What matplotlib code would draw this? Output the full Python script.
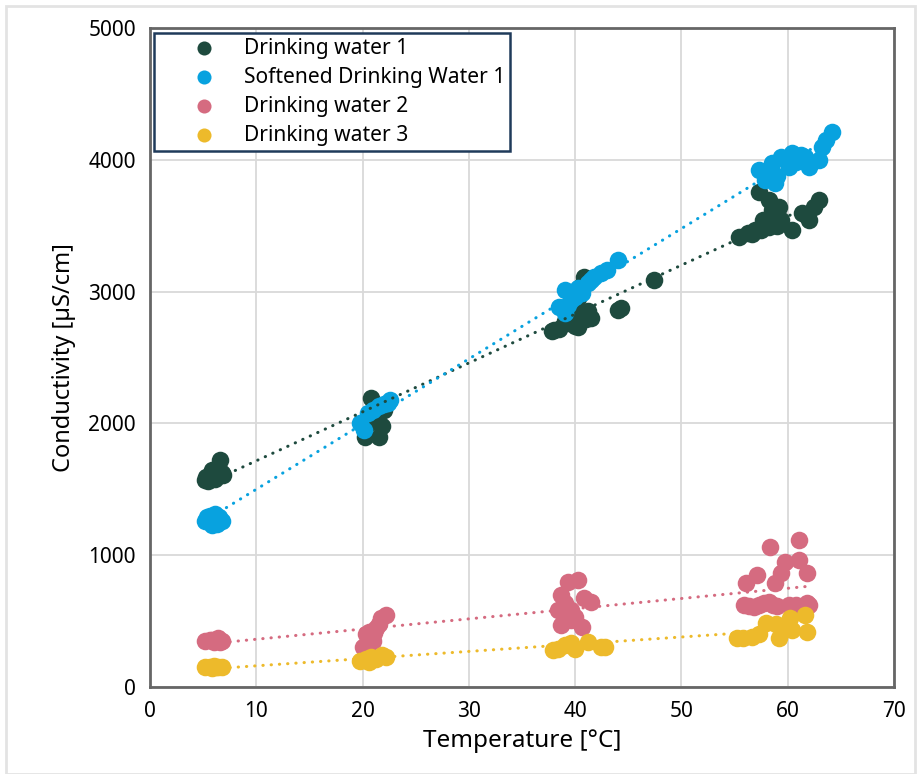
import numpy as np
import matplotlib
matplotlib.use("Agg")
import matplotlib.pyplot as plt
from matplotlib.patches import Rectangle

plt.rcParams['font.family'] = ['Noto Sans', 'DejaVu Sans']

# Datos (temperatura en °C, conductividad en µS/cm)
series_names = ["Drinking water 1", "Softened Drinking Water 1",
                "Drinking water 2", "Drinking water 3"]
series_colors = ["#1E4A3E", "#08A2DF", "#D56B80", "#EDBA2B"]

dw1_x = [5.2, 5.3, 5.5, 5.6, 5.8, 6.0, 6.1, 6.3, 6.6, 6.8, 5.7, 6.4, 6.9,
         20.2, 20.5, 20.6, 20.8, 21.2, 21.5, 21.8, 22.0, 21.0,
         37.8, 38.0, 38.5, 39.2, 40.0, 40.3, 40.5, 40.8, 41.0, 41.5, 39.8, 40.3, 40.6, 40.8,
         39.0, 39.5, 41.2, 44.0, 44.3, 47.4,
         55.4, 56.3, 56.9, 57.3, 57.7, 58.2, 58.2, 58.5, 59.2, 59.4, 60.4, 61.3, 62.0, 62.9,
         56.6, 57.5, 58.0, 58.8, 59.0, 61.7, 62.5]
dw1_y = [1570, 1590, 1560, 1600, 1650, 1640, 1580, 1600, 1720, 1620, 1620, 1660, 1610,
         1900, 2050, 2000, 2190, 2150, 1900, 1980, 2100, 2080,
         2700, 2709, 2720, 2760, 2740, 2731, 2800, 2800, 2790, 2800, 2900, 2950, 3050, 3111,
         2780, 2820, 2850, 2860, 2875, 3088,
         3414, 3444, 3467, 3756, 3543, 3695, 3490, 3619, 3642, 3543, 3467, 3596, 3543, 3695,
         3440, 3470, 3520, 3580, 3500, 3580, 3640]

sdw1_x = [5.2, 5.4, 5.6, 5.8, 6.0, 6.3, 6.5, 6.8, 6.1,
          19.8, 20.1, 20.5, 21.0, 21.5, 22.0, 22.4, 22.6,
          38.5, 39.0, 39.0, 39.6, 39.3, 40.0, 40.6, 41.2, 41.8, 42.4, 43.0, 44.0, 40.3, 41.5,
          57.3, 57.9, 58.5, 58.8, 59.4, 60.1, 60.4, 61.6, 62.0, 62.9, 63.2, 64.2,
          58.0, 59.0, 59.8, 60.8, 61.2, 63.6]
sdw1_y = [1260, 1290, 1300, 1230, 1280, 1240, 1290, 1260, 1310,
          2003, 1950, 2079, 2102, 2130, 2150, 2155, 2178,
          2880, 3012, 2838, 2936, 2900, 2960, 2989, 3065, 3111, 3141, 3164, 3240, 3030, 3090,
          3923, 3847, 3976, 3824, 4021, 3945, 4052, 4021, 3945, 3998, 4097, 4211,
          3900, 3880, 4000, 3980, 4040, 4150]

dw2_x = [5.2, 5.6, 6.0, 6.4, 6.8, 5.8, 6.6,
         20.0, 20.3, 20.6, 20.8, 21.0, 21.3, 21.5, 21.7, 22.2, 20.4, 21.1,
         38.4, 38.7, 38.7, 39.3, 39.6, 39.6, 40.3, 40.6, 40.8, 41.5, 39.0, 40.0,
         55.9, 56.1, 57.1, 57.3, 58.2, 58.3, 58.8, 59.4, 59.7, 60.1, 60.8, 61.1, 61.1, 61.8, 61.8,
         56.8, 57.8, 59.0, 61.5, 56.4, 58.6, 60.4, 62.0]
dw2_y = [350, 360, 340, 370, 350, 355, 345,
         300, 400, 420, 380, 350, 450, 480, 520, 550, 330, 410,
         584, 698, 470, 797, 584, 508, 812, 455, 675, 645, 640, 530,
         622, 789, 850, 622, 645, 1062, 789, 865, 948, 622, 622, 1115, 964, 865, 637,
         610, 640, 615, 610, 615, 620, 610, 625]

dw3_x = [5.2, 5.6, 6.0, 6.4, 6.8, 5.8, 6.2,
         19.8, 20.3, 20.8, 21.3, 21.8, 22.2, 20.6,
         37.9, 38.4, 39.6, 40.0, 41.2, 42.4, 42.8, 39.0,
         55.2, 56.6, 57.3, 58.0, 58.9, 59.2, 60.2, 60.4, 61.6, 61.8, 55.8, 59.8]
dw3_y = [150, 150, 160, 150, 150, 145, 155,
         200, 210, 230, 210, 240, 230, 190,
         281, 290, 334, 290, 341, 303, 300, 320,
         372, 379, 400, 486, 480, 372, 524, 432, 546, 417, 370, 440]

all_x = [dw1_x, sdw1_x, dw2_x, dw3_x]
all_y = [dw1_y, sdw1_y, dw2_y, dw3_y]

fig = plt.figure(figsize=(9.18, 7.74), dpi=100)
ax = fig.add_axes([0.1634, 0.1124, 0.8105, 0.8514])

# Marco gris claro alrededor de la figura
fig.patches.append(Rectangle((0.007, 0.0), 0.99, 0.992, transform=fig.transFigure,
                             fill=False, edgecolor="#E3E3E3", linewidth=2))

handles = []
for xs, ys, name, color in zip(all_x, all_y, series_names, series_colors):
    h = ax.scatter(xs, ys, s=160, color=color, label=name, zorder=3, linewidths=0)
    handles.append(h)
    # Línea de tendencia lineal punteada
    m, b = np.polyfit(xs, ys, 1)
    xx = np.array([min(xs), max(xs)])
    ax.plot(xx, m * xx + b, color=color, linewidth=2.2, linestyle=(0, (0.1, 2.6)),
            dash_capstyle='round', zorder=4)

ax.set_xlim(0, 70)
ax.set_ylim(0, 5000)
ax.set_xticks(range(0, 71, 10))
ax.set_yticks(range(0, 5001, 1000))
ax.grid(True, color="#D9D9D9", linewidth=1.3)
ax.set_axisbelow(True)
ax.tick_params(length=0, labelsize=15, pad=10)
for s in ax.spines.values():
    s.set_color("#666666")
    s.set_linewidth(2)

ax.set_xlabel("Temperature [°C]", fontsize=17.5, labelpad=5)
ax.set_ylabel("Conductivity [µS/cm]", fontsize=17, labelpad=9)

leg = ax.legend(handles=handles, loc="upper left", bbox_to_anchor=(0.006, 0.993),
                fontsize=15.1, frameon=True, fancybox=False, borderpad=0.25,
                labelspacing=0.38, handletextpad=-0.2, borderaxespad=0,
                markerscale=0.8, handlelength=4.2)
leg.get_frame().set_edgecolor("#1F3A5A")
leg.get_frame().set_linewidth(1.8)
leg.get_frame().set_alpha(1)

fig.savefig("out.png", dpi=100)
